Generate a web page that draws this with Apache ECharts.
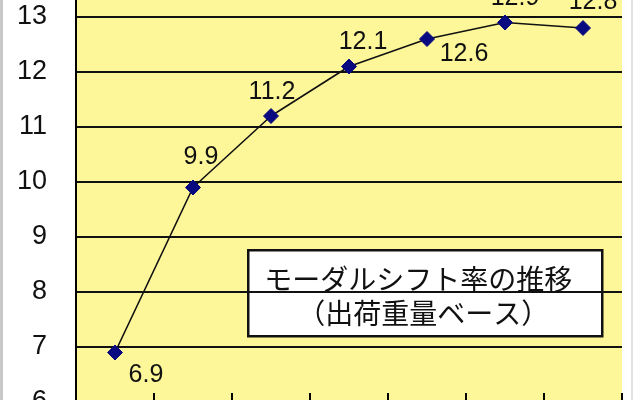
<!DOCTYPE html>
<html>
<head>
<meta charset="utf-8">
<script src="https://cdn.jsdelivr.net/npm/echarts@6/dist/echarts.min.js"></script>
<style>
html,body{margin:0;padding:0;background:#fff;}
#c{width:640px;height:400px;}
</style>
</head>
<body>
<div id="c"></div>
<script>
const categories = ['1', '2', '3', '4', '5', '6', '7'];
const shiftRate = [6.9, 9.9, 11.2, 12.1, 12.6, 12.9, 12.8];
const yTicks = [6, 7, 8, 9, 10, 11, 12, 13, 14];
const titleLines = ['モーダルシフト率の推移', '（出荷重量ベース）'];

// label placement per point (styling only)
const labelOffsets = [[31, 23], [8, -30], [1, -24], [14, -24], [37, 15], [10, -24], [10, -26]];

const chart = echarts.init(document.getElementById('c'), null, {renderer: 'canvas'});
const numFont = '"Liberation Sans", Arial, sans-serif';

chart.setOption({
  backgroundColor: '#ffffff',
  animation: false,
  grid: {left: 76, right: 18, top: -38, bottom: -2, show: true, backgroundColor: '#fdf79a', borderWidth: 0,
         containLabel: false, outerBoundsMode: 'none'},
  xAxis: {
    type: 'category',
    data: categories,
    boundaryGap: true,
    axisLine: {show: true, lineStyle: {color: '#000', width: 2}},
    axisTick: {show: true, inside: true, length: 9, lineStyle: {color: '#000', width: 2}},
    axisLabel: {show: false},
    splitLine: {show: false}
  },
  yAxis: {
    type: 'value',
    min: yTicks[0],
    max: yTicks[yTicks.length - 1],
    interval: 1,
    axisLine: {show: true, lineStyle: {color: '#000', width: 2}},
    axisTick: {show: false},
    axisLabel: {color: '#111', fontSize: 27, fontFamily: numFont, margin: 29},
    splitLine: {show: true, lineStyle: {color: '#111', width: 2}}
  },
  series: [{
    type: 'line',
    data: shiftRate.map((v, i) => ({
      value: v,
      label: {offset: labelOffsets[i]}
    })),
    symbol: 'diamond',
    symbolSize: 15,
    itemStyle: {color: '#0a0a80', borderColor: '#0a0a80'},
    lineStyle: {color: '#111', width: 1.6},
    label: {
      show: true,
      position: 'inside',
      color: '#111',
      fontSize: 25,
      fontFamily: numFont,
      formatter: p => p.value.toFixed(1)
    },
    z: 5
  }],
  graphic: [
    {type: 'rect', left: 0, top: 0, shape: {width: 3, height: 400}, style: {fill: '#c8c8c8'}, silent: true},
    {type: 'rect', left: 631, top: 0, shape: {width: 2, height: 400}, style: {fill: '#e2e2e2'}, silent: true},
    {
      type: 'group', left: 247, top: 249, z: 100,
      children: [
        {type: 'rect', shape: {x: 0, y: 0, width: 354, height: 86}, style: {fill: '#fff', stroke: '#111', lineWidth: 2.5}},
        {type: 'text', style: {x: 170, y: 29, text: titleLines[0], align: 'center', verticalAlign: 'middle', fill: '#111', font: '28px "Noto Sans CJK JP"'}},
        {type: 'text', style: {x: 175, y: 63, text: titleLines[1], align: 'center', verticalAlign: 'middle', fill: '#111', font: '28px "Noto Sans CJK JP"'}}
      ]
    }
  ]
});
</script>
</body>
</html>
